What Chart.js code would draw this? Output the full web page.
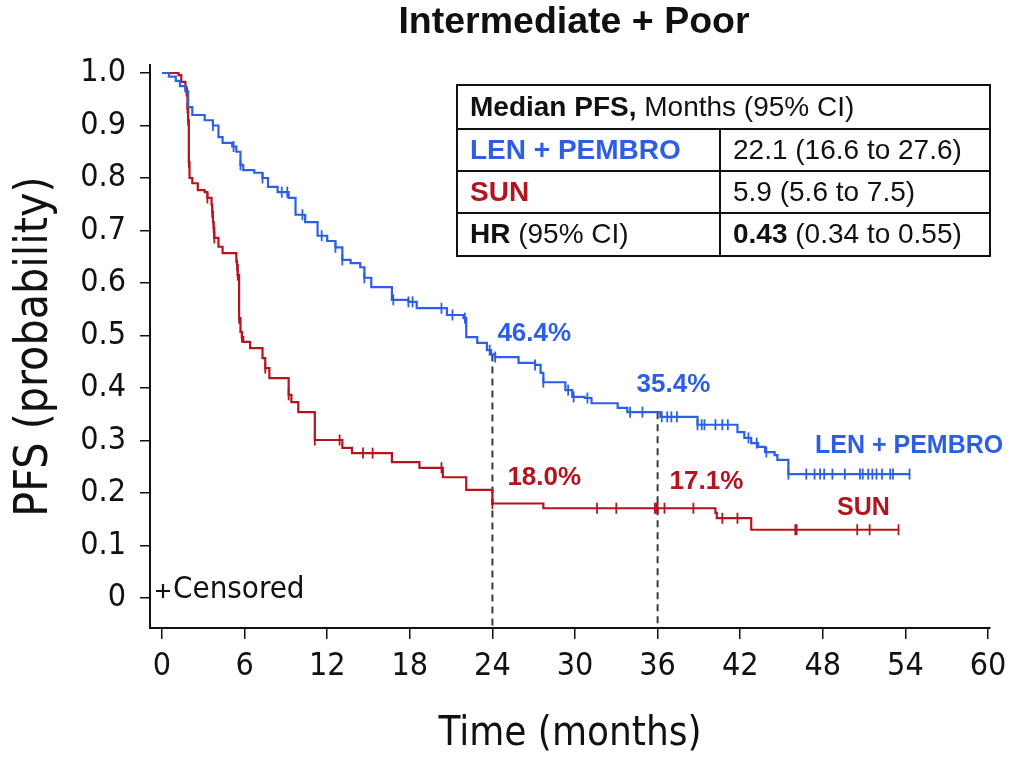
<!DOCTYPE html>
<html><head><meta charset="utf-8">
<script src="https://cdn.jsdelivr.net/npm/chart.js@4.4.1/dist/chart.umd.min.js"></script>
<style>html,body{margin:0;padding:0;background:#fff;}#wrap{width:1018px;height:760px;}</style>
</head><body><div id="wrap"><canvas id="c" width="1018" height="760"></canvas></div>
<script>
// ---- data ----
const xTicks = [0, 6, 12, 18, 24, 30, 36, 42, 48, 54, 60];
const yTicks = [0, 0.1, 0.2, 0.3, 0.4, 0.5, 0.6, 0.7, 0.8, 0.9, 1.0];

const blueTimes = [0, 0.5, 1.0, 1.3, 1.7, 1.9, 2.2, 3.1, 3.7, 4.1, 4.4, 5.1, 5.4, 5.7, 5.9, 6.7, 7.3, 7.7, 8.4, 9.2, 9.7, 10.4, 11.3, 12.0, 12.6, 13.1, 13.7, 14.4, 14.7, 15.2, 16.7, 17.9, 18.5, 20.7, 21.9, 22.1, 22.9, 23.6, 23.9, 24.2, 25.9, 27.1, 27.5, 27.7, 29.3, 29.8, 30.7, 31.2, 33.1, 33.8, 36.2, 38.9, 41.8, 42.3, 42.8, 43.3, 43.8, 44.5, 44.7, 45.5, 54.3];
const blueSurv = [1.0, 0.993, 0.985, 0.975, 0.965, 0.935, 0.92, 0.91, 0.90, 0.878, 0.867, 0.86, 0.85, 0.825, 0.815, 0.81, 0.80, 0.783, 0.773, 0.762, 0.73, 0.716, 0.69, 0.68, 0.668, 0.644, 0.638, 0.63, 0.61, 0.592, 0.568, 0.564, 0.552, 0.539, 0.533, 0.497, 0.486, 0.472, 0.464, 0.459, 0.448, 0.444, 0.429, 0.411, 0.396, 0.383, 0.381, 0.371, 0.362, 0.354, 0.345, 0.33, 0.316, 0.305, 0.295, 0.288, 0.278, 0.272, 0.263, 0.236, 0.236];
const blueCensorTimes = [1.8, 3.7, 5.2, 5.7, 7.3, 8.7, 9.1, 10.2, 11.6, 12.6, 13.1, 14.7, 16.8, 17.9, 18.2, 20.3, 21.1, 22.0, 23.8, 24.2, 27.1, 27.7, 29.5, 29.9, 30.9, 34.0, 34.9, 36.3, 36.7, 37.0, 37.4, 38.9, 39.2, 39.4, 40.2, 40.7, 41.1, 42.6, 43.2, 43.9, 45.5, 46.8, 47.4, 47.8, 48.1, 48.7, 49.6, 50.7, 50.9, 51.3, 51.6, 51.9, 52.3, 52.9, 53.1, 54.3];

const redTimes = [0, 1.2, 1.4, 1.7, 1.8, 1.85, 1.9, 1.95, 2.0, 2.2, 2.6, 3.1, 3.3, 3.6, 3.65, 3.7, 3.75, 3.8, 4.1, 4.4, 5.4, 5.45, 5.5, 5.6, 5.7, 5.8, 5.9, 6.4, 7.3, 7.5, 7.8, 9.2, 9.4, 9.9, 11.1, 13.1, 13.8, 16.7, 18.7, 20.4, 22.1, 24.0, 27.7, 40.2, 40.3, 42.8, 53.5];
const redSurv = [1.0, 0.996, 0.983, 0.97, 0.958, 0.933, 0.91, 0.83, 0.80, 0.79, 0.777, 0.773, 0.762, 0.749, 0.735, 0.716, 0.705, 0.686, 0.669, 0.657, 0.64, 0.634, 0.615, 0.533, 0.507, 0.497, 0.488, 0.476, 0.457, 0.438, 0.419, 0.387, 0.373, 0.354, 0.301, 0.286, 0.276, 0.259, 0.248, 0.23, 0.206, 0.18, 0.171, 0.162, 0.152, 0.13, 0.13];
const redCensorTimes = [1.85, 1.9, 1.95, 3.3, 3.65, 3.75, 3.8, 5.45, 5.5, 5.6, 5.8, 7.5, 9.2, 11.1, 12.9, 14.6, 15.3, 20.3, 24.0, 31.6, 33.0, 35.8, 35.9, 36.0, 36.5, 38.6, 40.7, 41.8, 46.0, 46.1, 50.5, 51.4, 53.5];

const landmarkTimes = [24, 36];
const blueLandmarks = [0.464, 0.354];
const redLandmarks = [0.180, 0.171];
const blueLandmarkLabels = ['46.4%', '35.4%'];
const redLandmarkLabels = ['18.0%', '17.1%'];

const seriesNames = ['LEN + PEMBRO', 'SUN'];
const tableHeader = ['Median PFS,', ' Months (95% CI)'];
const tableMedians = ['22.1 (16.6 to 27.6)', '5.9 (5.6 to 7.5)'];
const tableHR = ['HR', ' (95% CI)', '0.43', ' (0.34 to 0.55)'];
const chartTitle = 'Intermediate + Poor';
const xTitle = 'Time (months)';
const yTitle = 'PFS (probability)';
const censorNote = 'Censored';

// ---- style ----
const BLUE = '#2c5fe4';
const RED = '#b3141f';
const NARROW = "'Liberation Sans Narrow','DejaVu Sans Condensed','Liberation Sans',sans-serif";
const SANS = "'Liberation Sans',Arial,sans-serif";
const X_MIN = -0.872, X_MAX = 60.145, Y_MIN = -0.0571, Y_MAX = 1.0152;

function survAt(times, surv, t) {
  let s = surv[0];
  for (let i = 0; i < times.length; i++) { if (times[i] <= t) s = surv[i]; else break; }
  return s;
}
const pts = (T, S) => T.map((t, i) => ({x: t, y: S[i]}));
const censorPts = (C, T, S) => C.map(t => ({x: t, y: survAt(T, S, t)}));

const datasets = [
  {data: pts(blueTimes, blueSurv), borderColor: BLUE, borderWidth: 2.2, stepped: 'before', pointRadius: 0, fill: false},
  {data: pts(redTimes, redSurv), borderColor: RED, borderWidth: 2.2, stepped: 'before', pointRadius: 0, fill: false},
  {data: censorPts(blueCensorTimes, blueTimes, blueSurv), showLine: false, pointStyle: 'line', rotation: 90, pointRadius: 5.5, borderColor: BLUE, backgroundColor: BLUE, pointBorderWidth: 1.8},
  {data: censorPts(redCensorTimes, redTimes, redSurv), showLine: false, pointStyle: 'line', rotation: 90, pointRadius: 5.5, borderColor: RED, backgroundColor: RED, pointBorderWidth: 1.8},
];
landmarkTimes.forEach((t, i) => {
  datasets.push({data: [{x: t, y: blueLandmarks[i]}, {x: t, y: Y_MIN}], borderColor: '#3a3a3a', borderWidth: 2, borderDash: [7, 5], pointRadius: 0, fill: false});
});

function txt(ctx, s, x, y, font, color, align) {
  ctx.font = font; ctx.fillStyle = color; ctx.textAlign = align || 'left'; ctx.textBaseline = 'middle';
  ctx.fillText(s, x, y);
  return ctx.measureText(s).width;
}

const decor = {
  id: 'decor',
  afterDraw(chart) {
    const ctx = chart.ctx, xs = chart.scales.x, ys = chart.scales.y;
    ctx.save();
    // title
    txt(ctx, chartTitle, 574, 23, "bold 37.5px " + SANS, '#111', 'center');
    // landmark labels
    const lf = "bold 26px " + SANS;
    txt(ctx, blueLandmarkLabels[0], xs.getPixelForValue(landmarkTimes[0]) + 5, ys.getPixelForValue(blueLandmarks[0]) - 21, lf, BLUE, 'left');
    txt(ctx, blueLandmarkLabels[1], xs.getPixelForValue(landmarkTimes[1]) - 21, ys.getPixelForValue(blueLandmarks[1]) - 27, lf, BLUE, 'left');
    txt(ctx, redLandmarkLabels[0], xs.getPixelForValue(landmarkTimes[0]) + 15, ys.getPixelForValue(redLandmarks[0]) - 26, lf, RED, 'left');
    txt(ctx, redLandmarkLabels[1], xs.getPixelForValue(landmarkTimes[1]) + 12, ys.getPixelForValue(redLandmarks[1]) - 26, lf, RED, 'left');
    // series labels
    txt(ctx, seriesNames[0], 815, 446, "bold 25px " + SANS, BLUE, 'left');
    txt(ctx, seriesNames[1], 837, 508, "bold 25px " + SANS, RED, 'left');
    // censored note
    ctx.strokeStyle = '#111'; ctx.lineWidth = 2.2;
    ctx.beginPath(); ctx.moveTo(156, 591); ctx.lineTo(170, 591); ctx.moveTo(163, 584); ctx.lineTo(163, 598); ctx.stroke();
    txt(ctx, censorNote, 173, 590, "31px " + NARROW, '#111', 'left');
    // table
    const L = 457, R = 990, T = 85, B = 256, C = 720;
    const rows = [T, 129, 171, 213, B];
    ctx.fillStyle = '#fff'; ctx.fillRect(L, T, R - L, B - T);
    ctx.strokeStyle = '#111'; ctx.lineWidth = 2;
    ctx.strokeRect(L, T, R - L, B - T);
    ctx.beginPath();
    for (let i = 1; i < 4; i++) { ctx.moveTo(L, rows[i]); ctx.lineTo(R, rows[i]); }
    ctx.moveTo(C, rows[1]); ctx.lineTo(C, B);
    ctx.stroke();
    const tf = "28px " + SANS, tb = "bold 28px " + SANS;
    const cy = i => (rows[i] + rows[i + 1]) / 2 + 1;
    let w = txt(ctx, tableHeader[0], 470, cy(0), tb, '#111');
    txt(ctx, tableHeader[1], 470 + w, cy(0), tf, '#111');
    txt(ctx, seriesNames[0], 470, cy(1), tb, BLUE);
    txt(ctx, tableMedians[0], 733, cy(1), tf, '#111');
    txt(ctx, seriesNames[1], 470, cy(2), tb, RED);
    txt(ctx, tableMedians[1], 733, cy(2), tf, '#111');
    w = txt(ctx, tableHR[0], 470, cy(3), tb, '#111');
    txt(ctx, tableHR[1], 470 + w, cy(3), tf, '#111');
    w = txt(ctx, tableHR[2], 733, cy(3), tb, '#111');
    txt(ctx, tableHR[3], 733 + w, cy(3), tf, '#111');
    ctx.restore();
  }
};

new Chart(document.getElementById('c'), {
  type: 'line',
  data: {datasets},
  options: {
    responsive: false, animation: false,
    layout: {padding: {left: 0, right: 28, top: 65, bottom: 0}},
    plugins: {legend: {display: false}, tooltip: {enabled: false}, title: {display: false}},
    scales: {
      x: {
        type: 'linear', min: X_MIN, max: X_MAX,
        afterFit: s => { s.height = 132; },
        afterBuildTicks: s => { s.ticks = xTicks.map(v => ({value: v})); },
        border: {display: true, color: '#111', width: 2},
        grid: {display: true, drawOnChartArea: false, drawTicks: true, tickLength: 11, color: '#111', lineWidth: 1.5},
        ticks: {color: '#111', padding: 8, maxRotation: 0, autoSkip: false, font: {family: NARROW, size: 32}, callback: v => String(v)},
        title: {display: true, text: xTitle, color: '#111', font: {family: NARROW, size: 40, lineHeight: 1}, padding: {top: 0, bottom: 5}}
      },
      y: {
        type: 'linear', min: Y_MIN, max: Y_MAX,
        afterFit: s => { s.width = 150; },
        afterBuildTicks: s => { s.ticks = yTicks.map(v => ({value: v})); },
        border: {display: true, color: '#111', width: 2},
        grid: {display: true, drawOnChartArea: false, drawTicks: true, tickLength: 10, color: '#111', lineWidth: 1.5},
        ticks: {color: '#111', padding: 14, autoSkip: false, font: {family: NARROW, size: 32}, callback: v => (Math.abs(v) < 1e-9 ? '0' : v.toFixed(1))},
        title: {display: true, text: yTitle, color: '#111', font: {family: NARROW, size: 46, lineHeight: 1}, padding: {top: 12, bottom: 0}}
      }
    }
  },
  plugins: [decor]
});
</script></body></html>
